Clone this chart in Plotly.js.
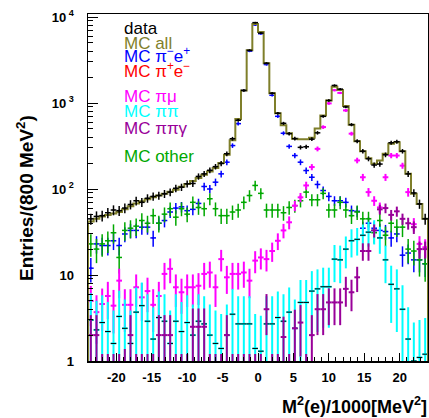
<!DOCTYPE html>
<html><head><meta charset="utf-8">
<script src="https://cdn.plot.ly/plotly-3.0.1.min.js"></script>
<style>html,body{margin:0;padding:0;background:#fff}#chart{width:429px;height:418px}</style>
</head><body><div id="chart"></div>
<script>
// Histogram binning: 60 bins of 0.8 (x1000 MeV^2) from -24 to 24
const binLow = -24, binWidth = 0.8;

const dataCounts = [45, 48, 49, 53, 57, 56, 60, 66, 73, 70,
 78, 82, 84, 88, 92, 102, 105, 115, 116, 140,
 150, 165, 182, 198, 257, 384, 630, 1400, 4100, 8600,
 6500, 2900, 1300, 760, 580, 440, 385, 305, 310, 380,
 450, 700, 1070, 1600, 1450, 900, 560, 360, 275, 225,
 190, 195, 250, 345, 355, 275, 150, 90, 67, 45];

const mcAll = [42, 45, 48, 50, 52, 54, 58, 63, 68, 72,
 76, 80, 84, 88, 93, 98, 106, 114, 124, 134,
 146, 160, 176, 200, 250, 370, 650, 1400, 4100, 8300,
 6700, 2900, 1300, 760, 550, 445, 385, 380, 380, 395,
 505, 715, 1070, 1550, 1420, 920, 560, 360, 275, 228,
 196, 215, 257, 335, 350, 275, 150, 88, 67, 45];

const mcPiMinusEPlus = [12, 23, 22, 22, 25, 22, 30, 33, 33, 36,
 36, 27, 40, 43, 54, 60, 62, 56, 58, 68,
 107, 100, 120, 150, 205, 320, 575, 1400, 4000, 8100,
 6400, 2800, 1230, 700, 445, 313, 245, 205, 164, 137,
 113, 96, 82, 73, 73, 70, 56, 55, 35, 40,
 35, 33, 32, 27, 30, 17, 18, 15, 15, 13.5];

const mcOther = [23, 20, 23, 25, 31, 16, 33, 35, 37, 43,
 40, 49, 40, 51, 59, 47, 59, 51, 70, 61,
 59, 77, 59, 49, 49, 54, 57, 70, 84, 110,
 89, 57, 57, 57, 53, 61, 64, 73, 92, 75,
 75, 89, 57, 57, 70, 57, 49, 54, 45, 45,
 31, 43, 29, 40, 36, 36, 20, 19, 15, 13.5];

const mcPiMu = [5, 3.7, 4.6, 5.7, 4.4, 8.6, 4.5, 4.5, 7.2, 5.5,
 6.5, 4.5, 5.7, 10.3, 11.8, 7.2, 6.3, 7.2, 7.2, 7.5,
 10.3, 10.7, 7.2, 15.3, 9.4, 10.3, 10.3, 10.7, 8.6, 14.7,
 16, 15.3, 19, 25, 33, 41, 64, 80, 110, 180,
 293, 525, 990, 1410, 1310, 820, 440, 215, 137, 92,
 73, 61, 137, 245, 245, 187, 92, 39, 23, 21];

const mcPiPi = [3.0, 2.3, 2.8, 2.2, 1.6, 3.3, 2.4, 1.6, 3.7, 4.4,
 2.9, 1.8, 3.2, 2.9, 1.6, 2.9, 2.2, 2.8, 2.0, 2.9,
 2.7, 2.0, 1.6, 1.4, 2.0, 3.5, 2.7, 2.7, 2.7, 1.4,
 1.3, 2.7, 2.7, 3.2, 2.9, 3.7, 2.4, 4.8, 4.8, 6.5,
 6.9, 7.3, 7.3, 15.3, 15, 20, 25, 26, 29, 31.5,
 33, 27, 15, 7.8, 6.9, 4.0, 1.8, 1.0, 1.1, 1.2];

const mcPiPiGamma = [2, 2, 0.5, 0.5, 0.5, 0.5, 0.6, 2, 0.5, 0.5,
 0.5, 0.5, 2, 2, 2, 0.5, 0.5, 0.5, 2.5, 2.5,
 2.5, 0.5, 0.5, 0.5, 2, 0.5, 0.5, 0.5, 0.5, 0.5,
 0.5, 4, 0.5, 0.5, 1.9, 0.5, 2.4, 2.8, 0.5, 2,
 4, 4, 4.8, 4.8, 4.8, 6.9, 6.3, 9.4, 19, 19,
 33, 58, 60, 50, 55, 45, 40, 36, 20, 20];

const xTickVals = [-20, -15, -10, -5, 0, 5, 10, 15, 20];
const yTickVals = [1, 10, 100, 1000, 10000];
const yTickText = ['1', '10', '10<sup> 2</sup>', '10<sup> 3</sup>', '10<sup> 4</sup>'];

const centers = dataCounts.map((_, i) => binLow + binWidth * (i + 0.5));

function errTrace(vals, color, scale, thick, marker) {
  return {
    x: centers, y: vals, type: 'scatter', mode: 'markers',
    marker: marker || {size: 2, color: color},
    error_y: {type: 'data', array: vals.map(v => scale * Math.sqrt(v)), visible: true, width: 0, thickness: thick, color: color},
    error_x: {type: 'constant', value: binWidth / 2, visible: true, width: 0, thickness: thick, color: color},
    hoverinfo: 'skip', cliponaxis: true
  };
}

// MC all as histogram outline
const stepX = [binLow], stepY = [1e-3];
mcAll.forEach((v, i) => { stepX.push(binLow + binWidth * i); stepY.push(v); });
stepX.push(binLow + binWidth * mcAll.length); stepY.push(mcAll[mcAll.length - 1]);
stepX.push(binLow + binWidth * mcAll.length); stepY.push(1e-3);

const traces = [
  errTrace(mcPiMinusEPlus, '#0000ff', 1.1, 1.5),
  errTrace(mcOther, '#00a800', 1.4, 1.5),
  errTrace(mcPiMu, '#ff00ff', 1.1, 2),
  errTrace(mcPiPi, '#00ffff', 1.8, 2, {symbol: 'line-ew', size: 4, line: {color: '#000', width: 1}, color: '#000'}),
  errTrace(mcPiPiGamma, '#990099', 1.0, 2),
  {x: stepX, y: stepY, type: 'scatter', mode: 'lines', line: {shape: 'hv', color: '#7f7f2a', width: 2}, hoverinfo: 'skip'},
  errTrace(dataCounts, '#000000', 1.0, 1.5)
];

const legendItems = [
  {text: 'data', color: '#000000', py: 29},
  {text: 'MC all', color: '#7f7f2a', py: 43},
  {text: 'MC π<sup>−</sup>e<sup>+</sup>', color: '#0000ff', py: 55},
  {text: 'MC π<sup>+</sup>e<sup>−</sup>', color: '#ff0000', py: 70},
  {text: 'MC πμ', color: '#ff00ff', py: 96},
  {text: 'MC ππ', color: '#00ffff', py: 112},
  {text: 'MC ππγ', color: '#990099', py: 128},
  {text: 'MC other', color: '#00a800', py: 156}
];
const plotTop = 14, plotBottom = 361, plotLeft = 88, plotRight = 428;
const ph = plotBottom - plotTop, pw = plotRight - plotLeft;

const annotations = legendItems.map(it => ({
  text: it.text, xref: 'paper', yref: 'paper', x: (123 - plotLeft) / pw, y: (plotBottom - it.py) / ph,
  xanchor: 'left', yanchor: 'middle', showarrow: false, borderpad: 0,
  font: {family: 'Liberation Sans, Arial, sans-serif', size: 17, color: it.color}
}));
annotations.push({
  text: '<b>M<sup>2</sup>(e)/1000[MeV<sup>2</sup>]</b>', xref: 'paper', yref: 'paper',
  x: 1, y: -(405 - plotBottom) / ph, xanchor: 'right', yanchor: 'middle', showarrow: false, borderpad: 0,
  font: {family: 'Liberation Sans, Arial, sans-serif', size: 18, color: '#000'}
});
annotations.push({
  text: '<b>Entries/(800 MeV<sup>2</sup>)</b>', xref: 'paper', yref: 'paper', textangle: -90,
  x: (25 - plotLeft) / pw, y: (plotBottom - 198) / ph, xanchor: 'center', yanchor: 'middle', showarrow: false,
  font: {family: 'Liberation Sans, Arial, sans-serif', size: 19, color: '#000'}
});

const layout = {
  width: 429, height: 418,
  margin: {l: plotLeft, r: 429 - plotRight, t: plotTop, b: 418 - plotBottom, pad: 0},
  paper_bgcolor: '#fff', plot_bgcolor: '#fff', showlegend: false,
  font: {family: 'Liberation Sans, Arial, sans-serif', color: '#000'},
  xaxis: {
    range: [binLow, binLow + binWidth * dataCounts.length],
    tickmode: 'array', tickvals: xTickVals, ticktext: xTickVals.map(v => '<b>' + v + '</b>'),
    ticks: 'inside', ticklen: 8, tickwidth: 1, tickcolor: '#000',
    showline: true, linecolor: '#000', linewidth: 1.5, mirror: true,
    showgrid: false, zeroline: false, tickfont: {size: 13, color: '#000'}, ticklabelstandoff: 4,
    minor: {ticks: 'inside', ticklen: 4, dtick: 1, tick0: 0, tickcolor: '#000', tickwidth: 1, showgrid: false}
  },
  yaxis: {
    type: 'log', range: [0, 4.035],
    tickmode: 'array', tickvals: yTickVals, ticktext: yTickText.map(t => '<b>' + t + '</b>'),
    ticks: 'inside', ticklen: 10, tickwidth: 1, tickcolor: '#000',
    showline: true, linecolor: '#000', linewidth: 1.5, mirror: true,
    showgrid: false, zeroline: false, tickfont: {size: 13, color: '#000'}, ticklabelstandoff: 10,
    minor: {ticks: 'inside', ticklen: 5, dtick: 'D1', tickcolor: '#000', tickwidth: 1, showgrid: false}
  },
  annotations: annotations
};

Plotly.newPlot('chart', traces, layout, {displayModeBar: false, staticPlot: true});
</script>
</body></html>
